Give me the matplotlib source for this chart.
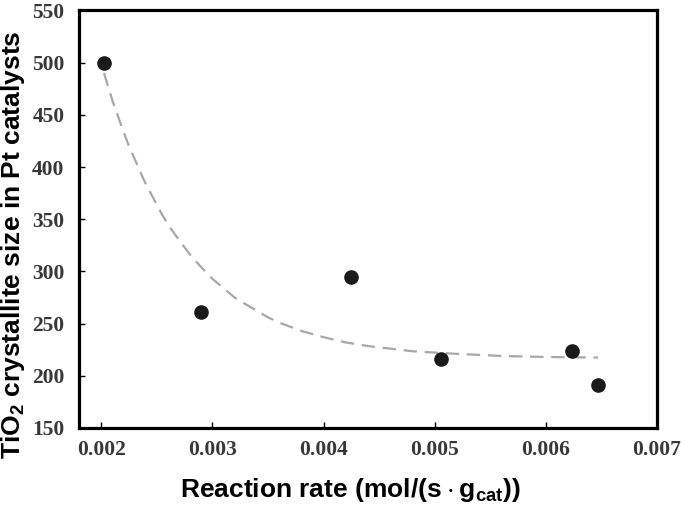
import matplotlib
matplotlib.use("Agg")
import matplotlib.pyplot as plt

# Data
rate = [0.002025, 0.002895, 0.004244, 0.005057, 0.006238, 0.006472]
size = [500, 261.5, 295, 216, 224, 191.5]

# Dashed trend curve
curve_x = [0.002025, 0.00210, 0.00215, 0.00220, 0.00225, 0.00230, 0.00237,
           0.00240, 0.00245, 0.00250, 0.00255, 0.00262, 0.00270, 0.00280,
           0.00290, 0.00300, 0.00310, 0.00320, 0.00334, 0.00350, 0.00360,
           0.00380, 0.00400, 0.00420, 0.00440, 0.00460, 0.00480, 0.00520,
           0.00560, 0.00600, 0.00647]
curve_y = [490, 464, 449, 434, 420, 408, 391,
           384, 374, 364, 354, 342, 330, 316,
           304, 293, 284, 275, 266, 256, 251,
           243, 237, 232, 228.5, 226, 223.5, 221,
           219, 218, 217.5]

x_ticks = [0.002, 0.003, 0.004, 0.005, 0.006, 0.007]
x_tick_labels = ["0.002", "0.003", "0.004", "0.005", "0.006", "0.007"]
y_ticks = [150, 200, 250, 300, 350, 400, 450, 500, 550]

plt.rcParams['mathtext.default'] = 'regular'

fig = plt.figure(figsize=(6.85, 5.12), dpi=100)
ax = fig.add_axes([0.1153, 0.1641, 0.8438, 0.8154])

ax.plot(curve_x, curve_y, linestyle=(0, (6, 3.5)), color='#a8a8a8', lw=1.6, zorder=2)
ax.plot(rate, size, 'o', color='#1a1a1a', markersize=9.5, zorder=3)

ax.set_xlim(0.0018, 0.007)
ax.set_ylim(150, 550)
ax.set_xticks(x_ticks)
ax.set_xticklabels(x_tick_labels)
ax.set_yticks(y_ticks)

for sp in ax.spines.values():
    sp.set_linewidth(2.3)
    sp.set_color('black')

ax.tick_params(axis='both', direction='in', length=4, width=1, top=False, right=False)
ax.tick_params(axis='x', pad=9)
ax.tick_params(axis='y', pad=10.5)
for lab in ax.get_xticklabels() + ax.get_yticklabels():
    lab.set_fontfamily('Liberation Serif')
    lab.set_fontweight('bold')
    lab.set_fontsize(15.5)
    lab.set_color('#383838')

ax.set_xlabel('Reaction rate (mol/(s\u2009$\\cdot$\u2009g$_{cat}$))', fontfamily='Liberation Sans',
              fontweight='bold', fontsize=19)
ax.set_ylabel('TiO$_2$ crystallite size in Pt catalysts', fontfamily='Liberation Sans',
              fontweight='bold', fontsize=19)
ax.xaxis.set_label_coords(0.469, -0.115)
ax.yaxis.set_label_coords(-0.09, 0.438)

fig.savefig('out.png', dpi=100)
